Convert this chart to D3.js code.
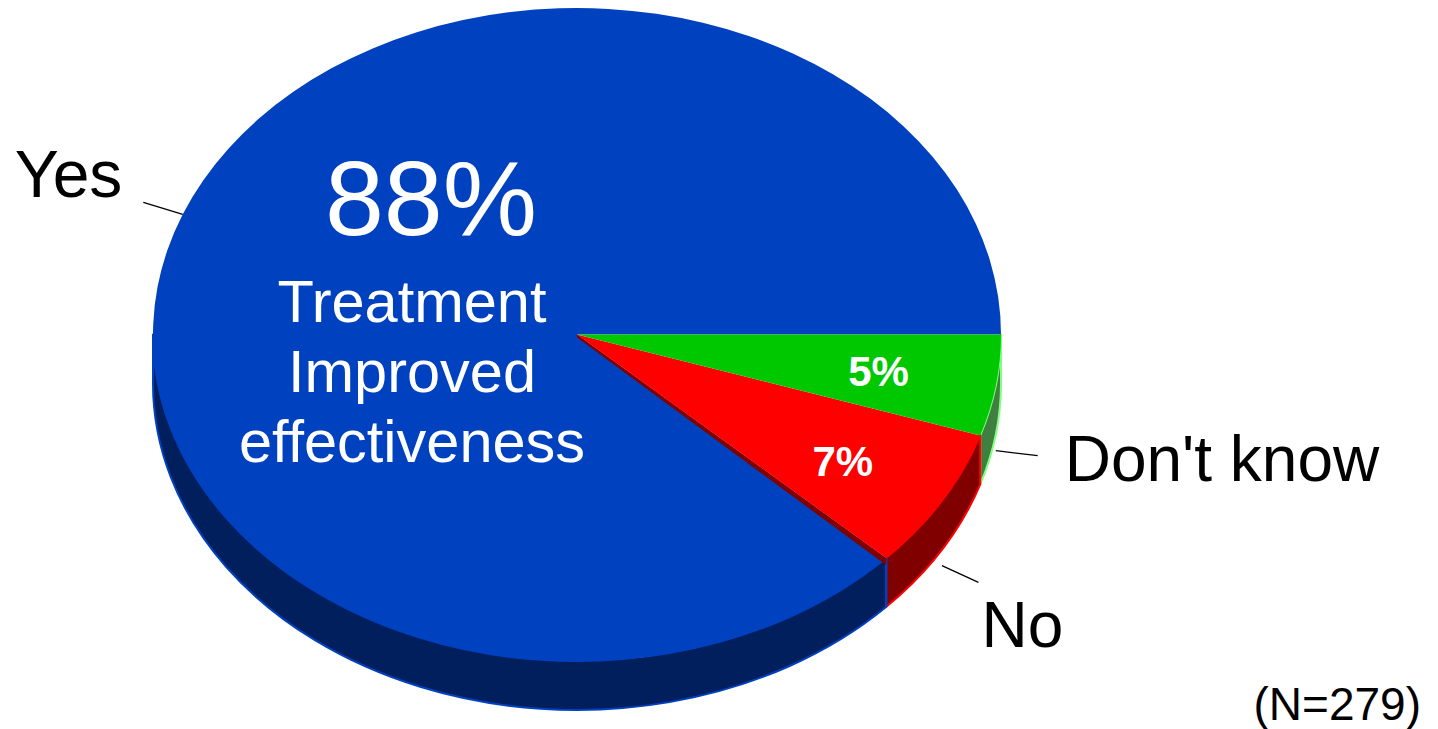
<!DOCTYPE html>
<html>
<head>
<meta charset="utf-8">
<script src="https://cdn.jsdelivr.net/npm/d3@7/dist/d3.min.js"></script>
<style>
  html, body { margin: 0; padding: 0; background: #fff; }
  svg { display: block; font-family: "Liberation Sans", Arial, sans-serif; }
</style>
</head>
<body>
<svg id="chart" width="1438" height="729"></svg>
<script>
// Survey answers, drawn clockwise from 3 o'clock
const categories = ["Don't know", "No", "Yes"];
const shares = [5, 7, 88];
const valueLabels = ["5%", "7%", "88%"];
const yesCaption = ["Treatment", "Improved", "effectiveness"];
const sampleNote = "(N=279)";

const topColors  = ["#00c800", "#ff0000", "#0041c0"];
const sideColors = ["#3f7f3f", "#800000", "#001f5c"];
const edgeColors = ["#80ff80", "#ff0000", "#0041c0"];

const W = 1438, H = 729;
const cx = 577, cy = 334.5, rx = 424, ry = 326.5, depth = 49;

const svg = d3.select("#chart");

const pie = d3.pie().sort(null).value(d => d)
  .startAngle(Math.PI / 2).endAngle(Math.PI / 2 + 2 * Math.PI);
const arcs = pie(shares);

// point on the ellipse at d3 angle a (0 = 12 o'clock, clockwise), radius factor k
const px = (a, k = 1) => cx + rx * k * Math.sin(a);
const py = (a, k = 1) => cy - ry * k * Math.cos(a);

function topPath(a0, a1) {
  const large = (a1 - a0) > Math.PI ? 1 : 0;
  return `M${cx},${cy}L${px(a0)},${py(a0)}A${rx},${ry} 0 ${large} 1 ${px(a1)},${py(a1)}Z`;
}
function sidePath(a0, a1) {
  const large = (a1 - a0) > Math.PI ? 1 : 0;
  return `M${px(a0)},${py(a0)}A${rx},${ry} 0 ${large} 1 ${px(a1)},${py(a1)}` +
         `L${px(a1)},${py(a1) + depth}A${rx},${ry} 0 ${large} 0 ${px(a0)},${py(a0) + depth}Z`;
}

// front side walls (visible between 3 o'clock and 9 o'clock)
const frontLo = Math.PI / 2, frontHi = 3 * Math.PI / 2;
const gSide = svg.append("g");
arcs.forEach((d, i) => {
  const a0 = Math.max(d.startAngle, frontLo), a1 = Math.min(d.endAngle, frontHi);
  if (a1 <= a0) return;
  gSide.append("path")
    .attr("d", sidePath(a0, a1))
    .attr("fill", sideColors[i])
    .attr("stroke", edgeColors[i])
    .attr("stroke-width", 2)
    .attr("stroke-linejoin", "round");
});

// vertical edge where the Yes wall begins
const yesStart = arcs[2].startAngle;
gSide.append("line")
  .attr("x1", px(yesStart)).attr("y1", py(yesStart))
  .attr("x2", px(yesStart)).attr("y2", py(yesStart) + depth)
  .attr("stroke", edgeColors[2]).attr("stroke-width", 2.5);

// top faces
const gTop = svg.append("g");
gTop.append("path").attr("d", topPath(arcs[2].startAngle, arcs[2].endAngle))
  .attr("fill", topColors[2]);

// thin shaded wall under the No wedge's lower edge
const noEnd = arcs[1].endAngle;
gTop.append("path")
  .attr("d", `M${cx},${cy}L${px(noEnd)},${py(noEnd)}L${px(noEnd)},${py(noEnd) + 7}L${cx},${cy + 3}Z`)
  .attr("fill", sideColors[1]);

[1, 0].forEach(i => {
  gTop.append("path").attr("d", topPath(arcs[i].startAngle, arcs[i].endAngle))
    .attr("fill", topColors[i]);
});

// wedge value labels (small wedges)
const wedgeLabelLayout = [
  { k: 0.72, dx: 0, dy: 15 },
  { k: 0.72, dx: 3, dy: 22 }
];
arcs.forEach((d, i) => {
  if (i === 2) return;
  const m = (d.startAngle + d.endAngle) / 2;
  const L = wedgeLabelLayout[i];
  svg.append("text")
    .attr("x", px(m, L.k) + L.dx).attr("y", py(m, L.k) + L.dy)
    .attr("text-anchor", "middle")
    .attr("font-size", 42).attr("font-weight", "bold")
    .attr("fill", "#fff")
    .text(valueLabels[i]);
});

// large Yes label block
svg.append("text")
  .attr("x", 431).attr("y", 235)
  .attr("text-anchor", "middle").attr("font-size", 106).attr("fill", "#fff")
  .text(valueLabels[2]);
yesCaption.forEach((t, j) => {
  svg.append("text")
    .attr("x", 412).attr("y", 322 + j * 70.2)
    .attr("text-anchor", "middle").attr("font-size", 59.5).attr("fill", "#fff")
    .text(t);
});

// category labels with leader lines
const labelLayout = [
  { dx: 27, dy: 25, anchor: "start" },
  { dx: 3, dy: 65, anchor: "start" },
  { dx: -21, dy: -5, anchor: "end" }
];
arcs.forEach((d, i) => {
  const m = (d.startAngle + d.endAngle) / 2;
  const drop = Math.cos(m) < 0 ? 65 : 0;
  const x1 = px(m), y1 = py(m) + drop;
  const x2 = px(m, 1.1), y2 = py(m, 1.1) + drop;
  svg.append("line")
    .attr("x1", x1).attr("y1", y1).attr("x2", x2).attr("y2", y2)
    .attr("stroke", "#000").attr("stroke-width", 1.3);
  const L = labelLayout[i];
  svg.append("text")
    .attr("x", x2 + L.dx).attr("y", y2 + L.dy)
    .attr("text-anchor", L.anchor)
    .attr("font-size", i === 2 ? 66 : 64).attr("fill", "#000")
    .text(categories[i]);
});

svg.append("text")
  .attr("x", 1421).attr("y", 720)
  .attr("text-anchor", "end").attr("font-size", 46).attr("fill", "#000")
  .text(sampleNote);
</script>
</body>
</html>
